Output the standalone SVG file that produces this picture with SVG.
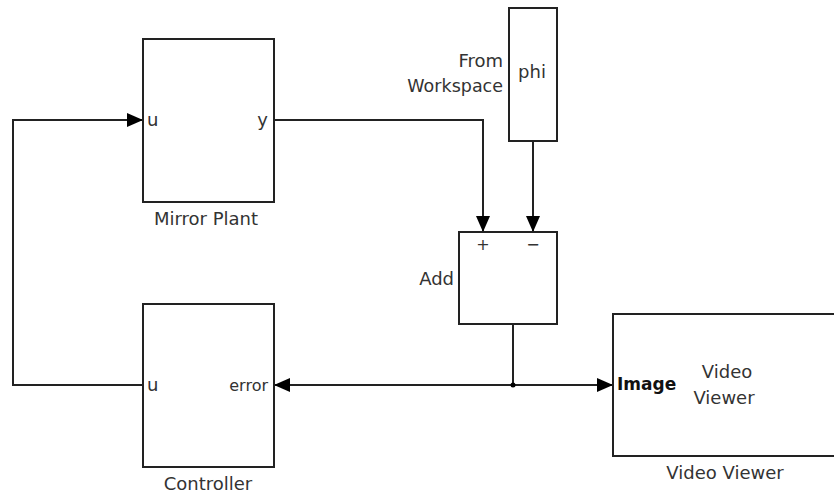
<svg xmlns="http://www.w3.org/2000/svg" width="834" height="495" viewBox="0 0 834 495">
<style>
.blk{fill:#fff;stroke:#222;stroke-width:2}
.ln{fill:none;stroke:#222;stroke-width:2}
text{font-family:"DejaVu Sans","Liberation Sans",Arial,sans-serif;font-size:18px;fill:#333}
.c{text-anchor:middle}
.r{text-anchor:end}
</style>
<defs>
<marker id="ar" markerWidth="16" markerHeight="14" refX="16" refY="7" orient="auto" markerUnits="userSpaceOnUse" viewBox="0 0 16 14"><path d="M0,0 L16,7 L0,14 z" fill="#000"/></marker>
</defs>
<g id="connectors">
<path class="ln" d="M274,120 H483 V232" marker-end="url(#ar)"/>
<path class="ln" d="M533,141 V232" marker-end="url(#ar)"/>
<path class="ln" d="M513,324 V385"/>
<path class="ln" d="M513,385 H274" marker-end="url(#ar)"/>
<path class="ln" d="M513,385 H613" marker-end="url(#ar)"/>
<path class="ln" d="M143,385 H13 V120 H143" marker-end="url(#ar)"/>
<circle cx="513" cy="385" r="2.5" fill="#000"/>
</g>
<g id="mirror-plant">
<rect class="blk" x="143" y="39" width="131" height="163"/>
<text x="147" y="126">u</text>
<text class="r" x="268" y="126">y</text>
<text class="c" x="206" y="225">Mirror Plant</text>
</g>
<g id="from-workspace">
<rect class="blk" x="509" y="8" width="48" height="133"/>
<text class="c" x="532" y="78">phi</text>
<text class="r" x="503" y="67">From</text>
<text class="r" x="503" y="92" style="font-size:17.5px">Workspace</text>
</g>
<g id="add">
<rect class="blk" x="459" y="232" width="98" height="92"/>
<text class="c" x="483" y="250" style="font-size:16px">+</text>
<text class="c" x="533" y="250" style="font-size:16px">−</text>
<text class="r" x="454" y="285">Add</text>
</g>
<g id="controller">
<rect class="blk" x="143" y="304" width="131" height="163"/>
<text x="147" y="391">u</text>
<text class="r" x="268" y="391" style="font-size:16px">error</text>
<text class="c" x="208" y="490">Controller</text>
</g>
<g id="video-viewer">
<rect class="blk" x="613" y="314" width="230" height="142"/>
<text x="617" y="390" style="font-size:17px;font-weight:bold;fill:#111">Image</text>
<text class="c" x="727" y="378">Video</text>
<text class="c" x="724" y="404">Viewer</text>
<text class="c" x="725" y="479">Video Viewer</text>
</g>
</svg>
